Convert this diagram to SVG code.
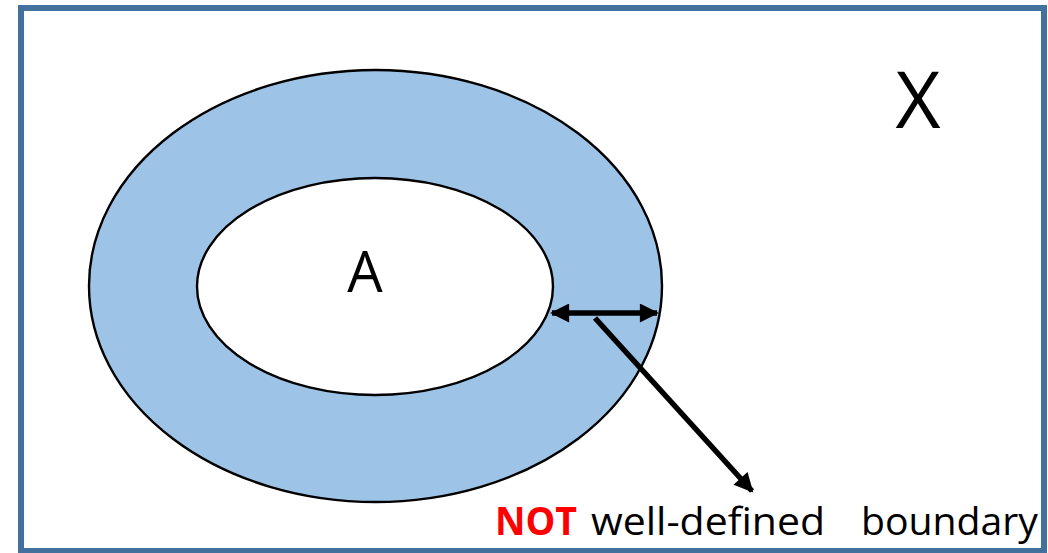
<svg xmlns="http://www.w3.org/2000/svg" width="1048" height="553" viewBox="0 0 1048 553">
<style>
.lbl{font-family:"Open Sans","Liberation Sans",sans-serif;fill:#000}
.ring{stroke:#000;stroke-width:2.4}
.conn{stroke:#000;stroke-width:5.5;fill:none}
</style>
<defs>
<marker id="ah" viewBox="0 0 10 10" refX="9" refY="5" markerUnits="userSpaceOnUse" markerWidth="20" markerHeight="19" orient="auto-start-reverse">
<path d="M0,0 L10,5 L0,10 z" fill="#000"/>
</marker>
</defs>
<rect x="0" y="0" width="1048" height="553" fill="#fff"/>
<g id="frame">
<rect x="21" y="8" width="1023" height="543" fill="#fff" stroke="#41719C" stroke-width="6"/>
<text class="lbl" x="918" y="128" font-size="78" text-anchor="middle">X</text>
</g>
<g id="boundary-region">
<ellipse class="ring" cx="375.5" cy="286" rx="286.5" ry="216" fill="#9DC3E6"/>
</g>
<g id="set-A">
<ellipse class="ring" cx="375" cy="286.5" rx="178" ry="108.5" fill="#fff"/>
<text class="lbl" x="365" y="292" font-size="56" text-anchor="middle">A</text>
</g>
<g id="connectors">
<line class="conn" x1="552" y1="313" x2="657" y2="313" marker-start="url(#ah)" marker-end="url(#ah)"/>
<line class="conn" x1="595" y1="318" x2="752" y2="491" marker-end="url(#ah)"/>
</g>
<g id="label">
<text class="lbl" x="495" y="535" font-size="39" font-weight="bold" fill="#FF0000" style="fill:#FF0000" textLength="82" lengthAdjust="spacingAndGlyphs">NOT</text>
<text class="lbl" x="591" y="535" font-size="39" textLength="234" lengthAdjust="spacingAndGlyphs">well-defined</text>
<text class="lbl" x="861" y="535" font-size="39" textLength="177" lengthAdjust="spacingAndGlyphs">boundary</text>
</g>
</svg>
